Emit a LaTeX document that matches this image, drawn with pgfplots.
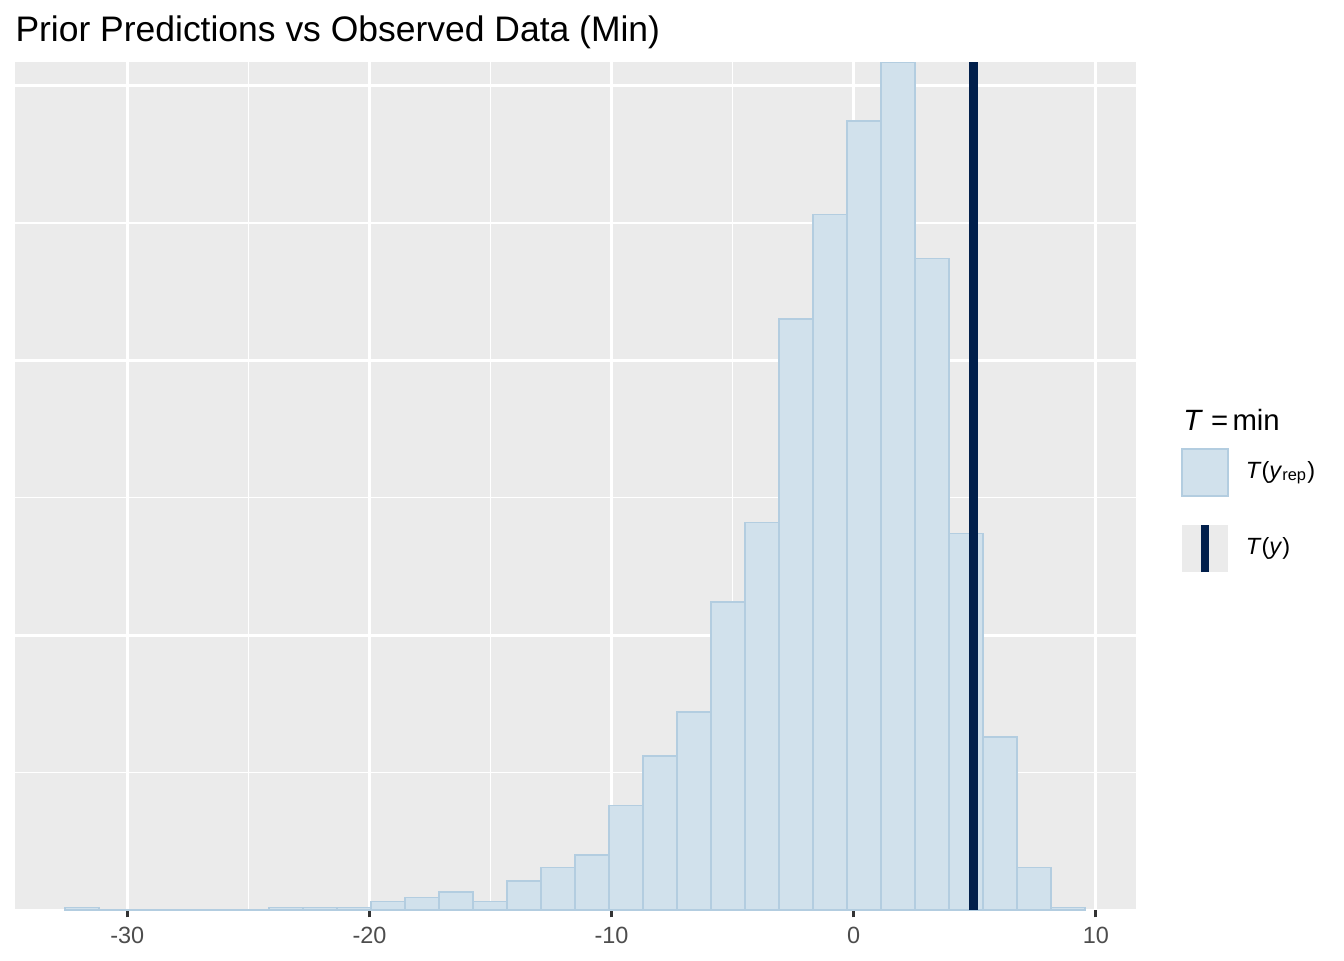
\documentclass[border=0pt]{standalone}
\usepackage{pgfplots}
\pgfplotsset{compat=1.18}
\usepackage{fontspec}
\setmainfont{Liberation Sans}
\definecolor{ggbg}{HTML}{EBEBEB}
\definecolor{barfill}{HTML}{D1E1EC}
\definecolor{barline}{HTML}{B3CDE0}
\definecolor{tdark}{HTML}{011F4B}
\definecolor{gray30}{HTML}{4D4D4D}
\definecolor{gray20}{HTML}{333333}
\begin{document}
\begin{tikzpicture}
\path[use as bounding box] (0,0) rectangle (504pt,360pt);
\begin{axis}[
  at={(5.625pt,18.75pt)}, anchor=south west,
  scale only axis, width=420.375pt, height=318pt,
  xmin=-34.64, xmax=11.66, ymin=0, ymax=617,
  axis background/.style={fill=ggbg},
  axis line style={draw=none},
  xtick={-30,-20,-10,0,10}, xticklabels={-30,-20,-10,0,10},
  minor xtick={-25,-15,-5,5},
  ytick={0,200,400,600}, minor ytick={100,300,500},
  yticklabels={},
  grid=both,
  major grid style={white, line width=1.07pt},
  minor grid style={white, line width=0.6pt},
  tick align=outside, xtick pos=bottom, ytick pos=left,
  major tick length=2.75pt, minor tick length=0pt,
  xtick style={draw=gray20, line width=1.07pt},
  ytick style={draw=none},
  xticklabel style={font=\fontsize{8.8}{10}\selectfont, text=gray30},
]
\addplot[ybar interval, fill=barfill, draw=barline, line width=0.5pt] coordinates {
(-32.570,2) (-31.166,0) (-29.762,0) (-28.358,0) (-26.954,0) (-25.550,0)
(-24.146,2) (-22.742,2) (-21.338,2) (-19.934,6) (-18.530,9) (-17.126,13)
(-15.722,6) (-14.318,21) (-12.914,31) (-11.510,40) (-10.106,76) (-8.702,112)
(-7.298,144) (-5.894,224) (-4.490,282) (-3.086,430) (-1.682,506) (-0.278,574)
(1.126,617) (2.530,474) (3.934,274) (5.338,126) (6.742,31) (8.146,2) (9.550,0)
};
\addplot[draw=tdark, line width=3.2pt] coordinates {(4.94,0) (4.94,617)};
\end{axis}
\node[anchor=base west, inner sep=0pt, font=\fontsize{13.3}{15}\selectfont] at (5.625pt,344.6pt) {Prior Predictions vs Observed Data (Min)};
% legend
\node[anchor=base west, inner sep=0pt, font=\fontsize{11}{13}\selectfont] at (443.6pt,198.75pt) {\textit{T}\hspace{0.27em}=\hspace{0.15em}min};
\draw[fill=barfill, draw=barline, line width=0.5pt] (443.25pt,174pt) rectangle (460.5pt,191.6pt);
\fill[ggbg] (443.25pt,145.5pt) rectangle (460.5pt,163.1pt);
\draw[tdark, line width=3.2pt] (451.9pt,145.5pt) -- (451.9pt,163.1pt);
\node[anchor=west, inner sep=0pt, font=\fontsize{8.8}{10}\selectfont] at (467pt,182.8pt) {\textit{T}(\textit{y}\textsubscript{rep})};
\node[anchor=west, inner sep=0pt, font=\fontsize{8.8}{10}\selectfont] at (467pt,154.3pt) {\textit{T}(\textit{y})};
\end{tikzpicture}
\end{document}
